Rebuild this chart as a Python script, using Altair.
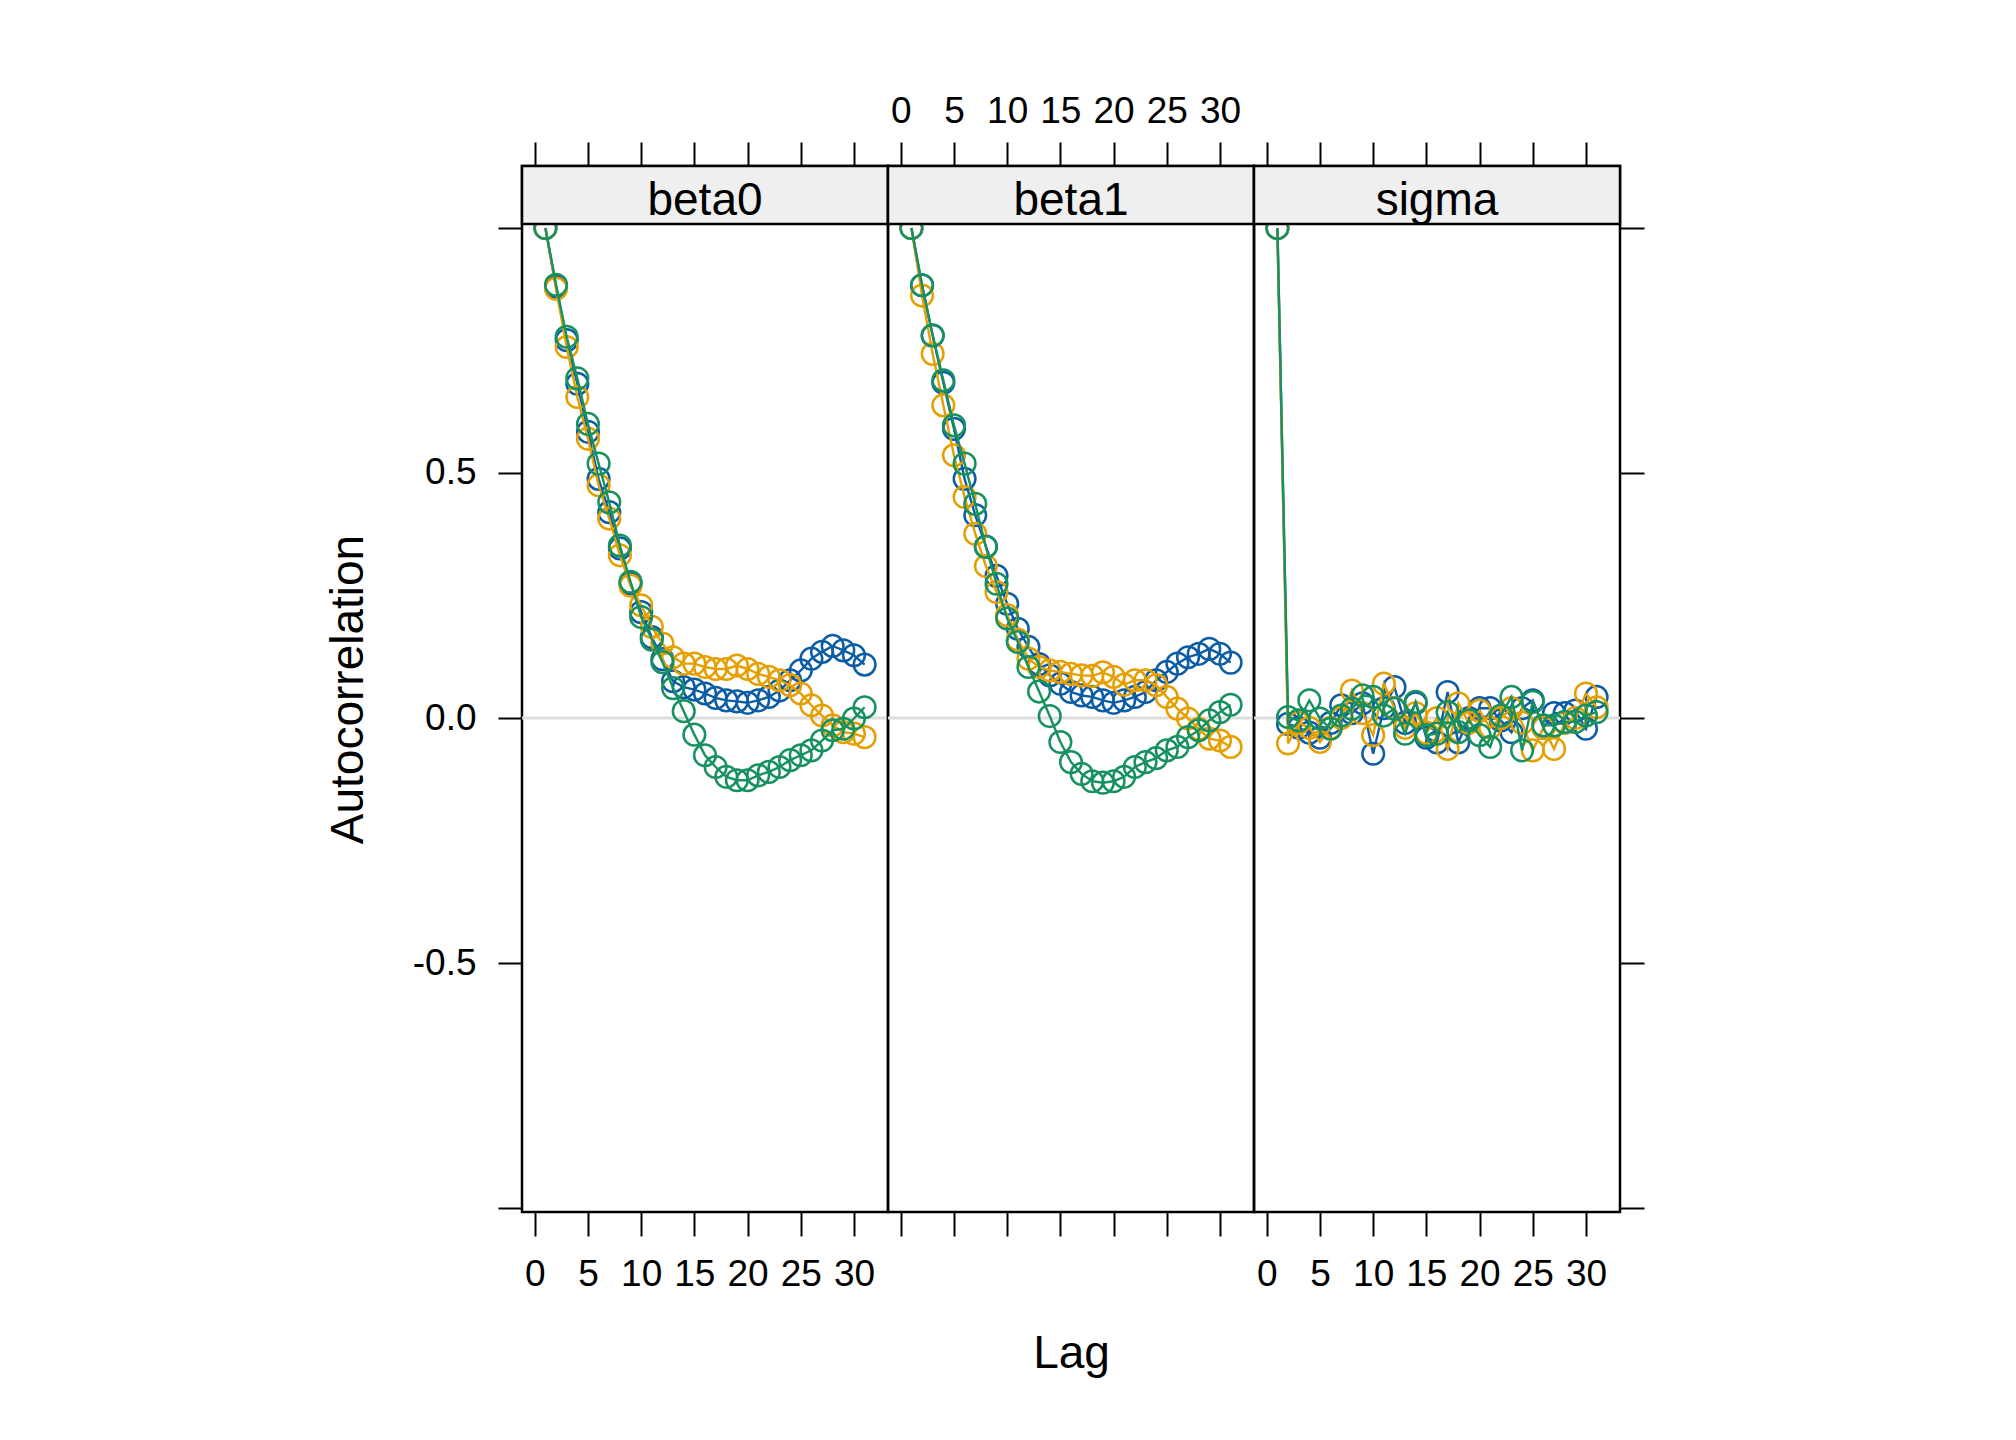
import altair as alt
import pandas as pd

# ---------------- data ----------------
lags = list(range(1, 32))
panels = ["beta0", "beta1", "sigma"]
chains = ["1", "2", "3"]
chain_colors = ["#0C5DA5", "#E69F00", "#17915F"]

beta0_chain1 = [1.0, 0.88, 0.771, 0.682, 0.584, 0.488, 0.42, 0.346, 0.275, 0.216,
                0.165, 0.12, 0.075, 0.063, 0.058, 0.05, 0.041, 0.036, 0.034, 0.031,
                0.036, 0.043, 0.056, 0.077, 0.097, 0.121, 0.135, 0.147, 0.138, 0.128, 0.109]
beta0_chain2 = [1.0, 0.876, 0.757, 0.655, 0.57, 0.475, 0.407, 0.332, 0.27, 0.23,
                0.186, 0.152, 0.124, 0.111, 0.111, 0.104, 0.10, 0.10, 0.107, 0.10,
                0.09, 0.084, 0.077, 0.067, 0.05, 0.026, 0.005, -0.015, -0.029, -0.032, -0.039]
beta0_chain3 = [1.0, 0.884, 0.778, 0.693, 0.60, 0.519, 0.44, 0.352, 0.278, 0.206,
                0.16, 0.114, 0.061, 0.014, -0.034, -0.076, -0.10, -0.12, -0.127, -0.127,
                -0.117, -0.11, -0.10, -0.086, -0.076, -0.066, -0.046, -0.025, -0.022, -0.001, 0.022]

beta1_chain1 = [1.0, 0.883, 0.78, 0.684, 0.59, 0.488, 0.414, 0.35, 0.29, 0.233,
                0.182, 0.145, 0.11, 0.087, 0.07, 0.053, 0.046, 0.043, 0.036, 0.031,
                0.036, 0.043, 0.053, 0.077, 0.094, 0.111, 0.124, 0.131, 0.141, 0.131, 0.113]
beta1_chain2 = [1.0, 0.862, 0.743, 0.638, 0.536, 0.451, 0.376, 0.31, 0.257, 0.21,
                0.16, 0.121, 0.104, 0.097, 0.094, 0.09, 0.087, 0.086, 0.093, 0.084,
                0.068, 0.077, 0.077, 0.067, 0.043, 0.019, -0.001, -0.022, -0.042, -0.046, -0.059]
beta1_chain3 = [1.0, 0.883, 0.781, 0.689, 0.597, 0.519, 0.437, 0.349, 0.274, 0.203,
                0.155, 0.104, 0.054, 0.004, -0.049, -0.09, -0.114, -0.129, -0.132, -0.129,
                -0.12, -0.10, -0.09, -0.082, -0.066, -0.059, -0.039, -0.025, -0.005, 0.012, 0.027]

sigma_chain1 = [1.0, -0.012, -0.02, -0.03, -0.04, -0.01, 0.026, 0.01, 0.03, -0.073,
                0.02, 0.063, -0.01, 0.03, -0.04, -0.05, 0.053, -0.05, 0.0, 0.02,
                0.02, -0.005, -0.029, 0.02, 0.036, -0.02, 0.01, 0.01, 0.015, -0.022, 0.043]
sigma_chain2 = [1.0, -0.052, -0.01, -0.02, -0.049, -0.02, 0.0, 0.056, 0.01, -0.035,
                0.07, 0.02, -0.02, 0.01, -0.03, 0.0, -0.063, 0.03, -0.01, 0.015,
                -0.02, 0.0, 0.02, -0.01, -0.066, -0.02, -0.063, -0.01, 0.0, 0.05, 0.022]
sigma_chain3 = [1.0, 0.002, -0.005, 0.036, -0.001, -0.022, 0.005, 0.019, 0.046, 0.043,
                0.005, 0.019, -0.032, 0.033, -0.035, -0.032, 0.012, -0.029, -0.005, -0.035,
                -0.059, 0.005, 0.043, -0.066, 0.033, -0.015, -0.015, -0.008, -0.008, 0.005, 0.012]

x_ticks = [0, 5, 10, 15, 20, 25, 30]
y_ticks = [-1.0, -0.5, 0.0, 0.5, 1.0]

series = {
    "beta0": [beta0_chain1, beta0_chain2, beta0_chain3],
    "beta1": [beta1_chain1, beta1_chain2, beta1_chain3],
    "sigma": [sigma_chain1, sigma_chain2, sigma_chain3],
}

rows = []
for p in panels:
    for c, vals in zip(chains, series[p]):
        for lag, v in zip(lags, vals):
            rows.append({"panel": p, "chain": c, "lag": lag, "acf": v})
df = pd.DataFrame(rows)

# ---------------- layout ----------------
FONT = "Liberation Sans"
W = 366
PANEL_H = 988
STRIP_H = 58
H = PANEL_H + STRIP_H
Y_LO = -1.008
Y_HI = 1.008 + 2.016 * STRIP_H / PANEL_H

xscale = alt.Scale(domain=[-1.2, 33.2], nice=False, zero=False)
yscale = alt.Scale(domain=[Y_LO, Y_HI], nice=False, zero=False)

ylabel_expr = ("datum.value == 0.5 ? '0.5' : datum.value == 0 ? '0.0' : "
               "datum.value == -0.5 ? '-0.5' : ''")


def make_panel(i, name):
    d = df[df.panel == name]
    layers = []

    zero_df = pd.DataFrame({"z": [0.0]})
    layers.append(
        alt.Chart(zero_df).mark_rule(color="#DDDDDD", strokeWidth=3).encode(
            y=alt.Y("z:Q", scale=yscale, axis=None)
        )
    )

    # bottom x axis
    if i == 1:
        bottom_axis = alt.Axis(orient="bottom", values=x_ticks, labels=False,
                               title="Lag", titlePadding=94, titleFontSize=46,
                               titleFontWeight="normal", titleFont=FONT, titleColor="black")
    else:
        bottom_axis = alt.Axis(orient="bottom", values=x_ticks, labels=True,
                               labelPadding=20)
    # y axis
    if i == 0:
        y_axis = alt.Axis(orient="left", values=y_ticks, labelExpr=ylabel_expr,
                          labelPadding=22, title="Autocorrelation", titlePadding=40,
                          titleFontSize=46, titleFontWeight="normal", titleFont=FONT,
                          titleColor="black")
    elif i == 2:
        y_axis = alt.Axis(orient="right", values=y_ticks, labels=False)
    else:
        y_axis = None

    for k, (c, col) in enumerate(zip(chains, chain_colors)):
        dc = d[d.chain == c]
        if k == 0:
            xenc = alt.X("lag:Q", scale=xscale, axis=bottom_axis, title=None if i != 1 else "Lag")
            yenc = alt.Y("acf:Q", scale=yscale, axis=y_axis,
                         title="Autocorrelation" if i == 0 else None)
        else:
            xenc = alt.X("lag:Q", scale=xscale, axis=None)
            yenc = alt.Y("acf:Q", scale=yscale, axis=None)
        layers.append(
            alt.Chart(dc).mark_line(color=col, strokeWidth=2.4).encode(x=xenc, y=yenc)
        )
        layers.append(
            alt.Chart(dc).mark_point(color=col, filled=False, size=470,
                                     strokeWidth=2.5, opacity=1).encode(
                x=alt.X("lag:Q", scale=xscale, axis=None),
                y=alt.Y("acf:Q", scale=yscale, axis=None),
            )
        )

    # top x axis (invisible points carry it)
    top_axis = alt.Axis(orient="top", values=x_ticks, labels=(i == 1), labelPadding=12)
    layers.append(
        alt.Chart(d).mark_point(opacity=0).encode(
            x=alt.X("lag:Q", scale=xscale, axis=top_axis, title=None),
            y=alt.Y("acf:Q", scale=yscale, axis=None),
        )
    )

    strip_df = pd.DataFrame({"label": [name]})
    layers.append(
        alt.Chart(strip_df).mark_rect(fill="#EFEFEF", stroke="black", strokeWidth=2.5).encode(
            x=alt.value(0), x2=alt.value(W), y=alt.value(0), y2=alt.value(STRIP_H)
        )
    )
    layers.append(
        alt.Chart(strip_df).mark_text(fontSize=46, font=FONT, color="black",
                                      baseline="middle", align="center").encode(
            x=alt.value(W / 2), y=alt.value(STRIP_H / 2 + 6), text="label:N"
        )
    )

    return alt.layer(*layers).properties(width=W, height=H).resolve_axis(
        x="independent", y="independent"
    )


chart = alt.hconcat(
    *[make_panel(i, p) for i, p in enumerate(panels)], spacing=0, bounds="flush"
).properties(
    padding={"left": 315, "top": 82, "right": 5, "bottom": 5},
    background="white",
).configure_view(
    stroke="black", strokeWidth=2.5
).configure_axis(
    grid=False, domain=False, tickColor="black", tickWidth=2, tickSize=24,
    labelColor="black", labelFontSize=37, labelFont=FONT,
)

chart.save("out.html", embed_options={"renderer": "svg", "actions": False})
